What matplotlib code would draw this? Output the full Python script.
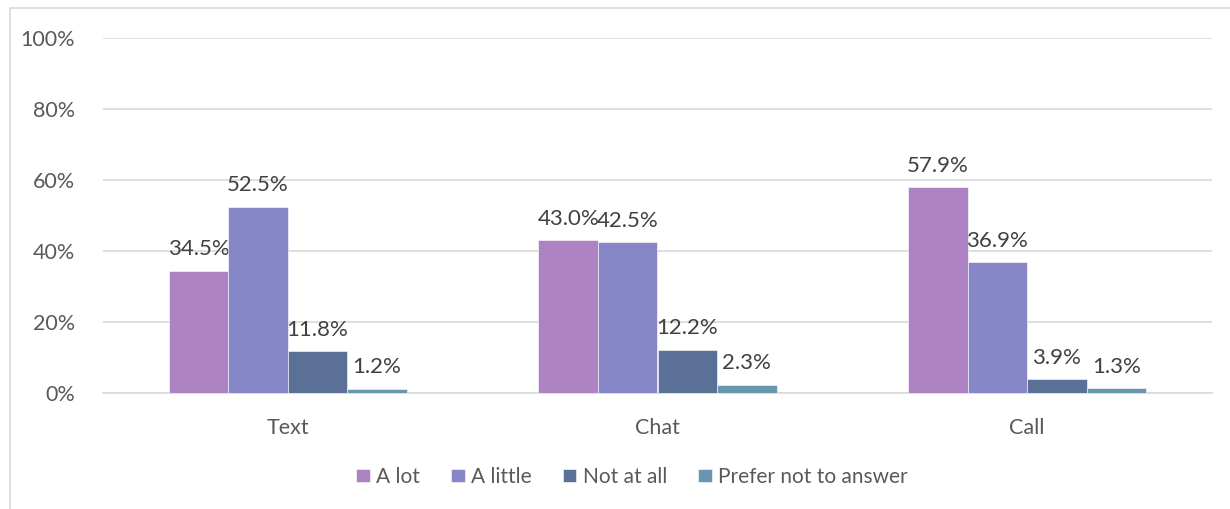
import numpy as np
import matplotlib.pyplot as plt
from matplotlib.patches import Rectangle

categories = ['Text', 'Chat', 'Call']
series = ['A lot', 'A little', 'Not at all', 'Prefer not to answer']
a_lot = [34.5, 43.0, 57.9]
a_little = [52.5, 42.5, 36.9]
not_at_all = [11.8, 12.2, 3.9]
prefer_not = [1.2, 2.3, 1.3]
colors = ['#AE83C4', '#8786C6', '#5B7096', '#6896AE']

plt.rcParams['font.family'] = ['Lato', 'DejaVu Sans']
fig = plt.figure(figsize=(12.3, 5.09), dpi=100)
ax = fig.add_axes([103/1230, 1 - 393/509, 1109/1230, 355/509])

# outer chart border
fig.patches.append(Rectangle((10/1230, -0.01), 1.2, 1 - 8/509 + 0.01, transform=fig.transFigure,
                             fill=False, edgecolor='#D9D9D9', linewidth=1.2))

x = np.arange(len(categories))
w = 0.161
for i, (vals, name) in enumerate(zip([a_lot, a_little, not_at_all, prefer_not], series)):
    pos = x + (i - 1.5) * w
    ax.bar(pos, vals, width=w, color=colors[i], label=name, edgecolor='white', linewidth=0.4, zorder=3)
    for p, v in zip(pos, vals):
        ax.text(p, v + 3.2, f'{v:.1f}%', ha='center', va='bottom', fontsize=16, color='#404040')

ax.set_xlim(-0.5, 2.5)
ax.set_ylim(0, 100)
ax.set_yticks(range(0, 101, 20))
ax.set_yticklabels([f'{t}%' for t in range(0, 101, 20)])
ax.set_xticks(x)
ax.set_xticklabels(categories)
ax.tick_params(axis='both', length=0, labelsize=15.5, colors='#595959')
ax.tick_params(axis='y', pad=20)
ax.tick_params(axis='x', pad=18)
ax.grid(axis='y', color='#D9D9D9', linewidth=1.2, zorder=0)
for s in ['top', 'right', 'left']:
    ax.spines[s].set_visible(False)
ax.spines['bottom'].set_color('#D9D9D9')
ax.spines['bottom'].set_linewidth(1.2)

leg = ax.legend(loc='upper center', bbox_to_anchor=(0.477, -0.155), ncol=4, frameon=False,
                fontsize=15, handlelength=0.65, handleheight=0.65, handletextpad=0.3, columnspacing=1.5)
for t in leg.get_texts():
    t.set_color('#595959')

fig.savefig('out.png', dpi=100)
